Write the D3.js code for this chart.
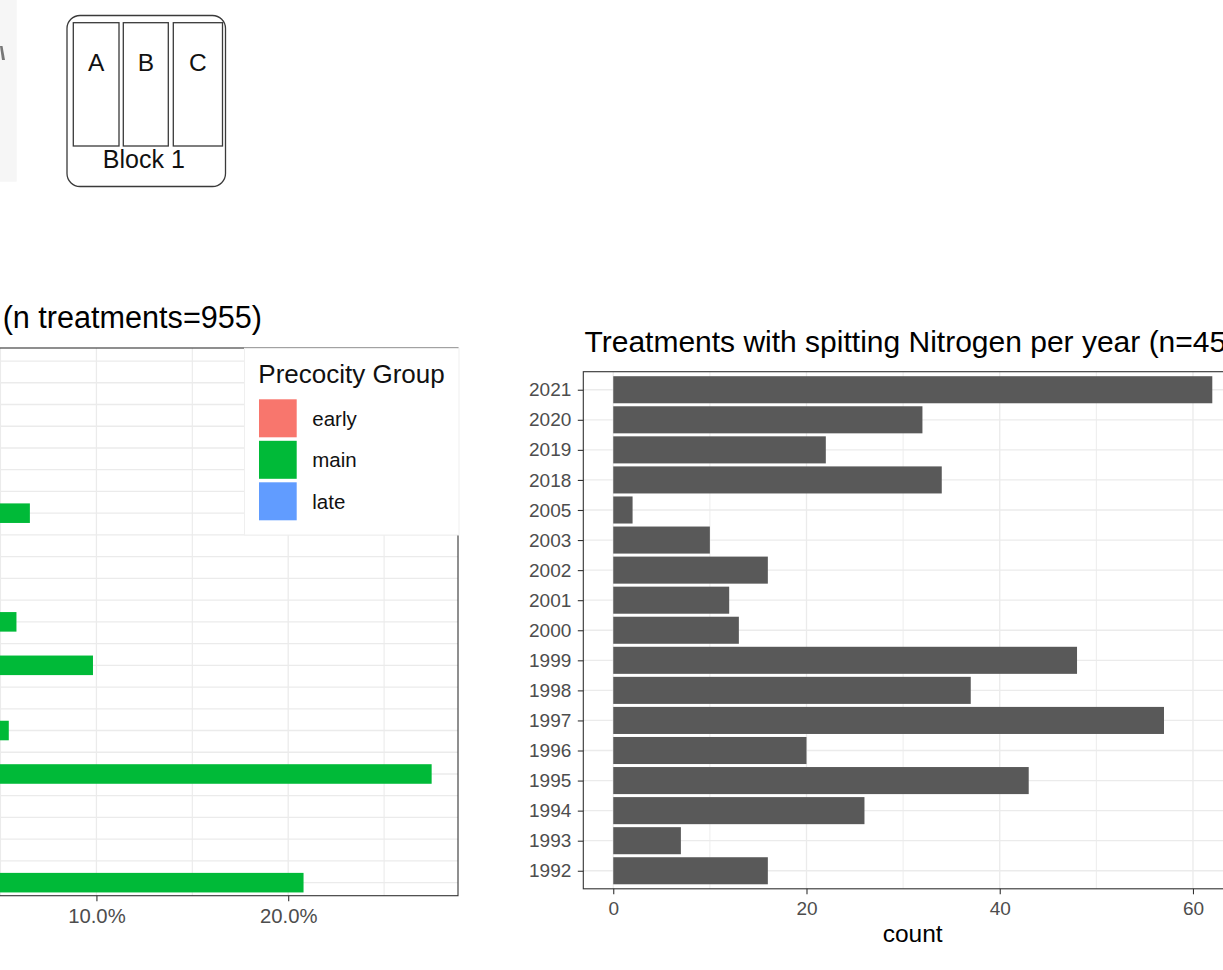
<!DOCTYPE html>
<html><head><meta charset="utf-8">
<script src="https://cdn.jsdelivr.net/npm/d3@7"></script>
<style>
body{margin:0;background:#fff;}
svg{display:block;font-family:"Liberation Sans",Arial,Helvetica,sans-serif;}
</style>
</head><body>
<svg id="c" width="1223" height="970"></svg>
<script>
// ---------- DATA ----------
// Right chart: treatments with splitting nitrogen per year
const years = ["2021","2020","2019","2018","2005","2003","2002","2001","2000","1999","1998","1997","1996","1995","1994","1993","1992"];
const counts = [62,32,22,34,2,10,16,12,13,48,37,57,20,43,26,7,16];
const countMajorTicks = [0,20,40,60];
const countMinorTicks = [10,30,50];
const rightTitle = "Treatments with spitting Nitrogen per year (n=457)";
const rightXLabel = "count";

// Left chart: share of treatments per category (category labels are cropped off in the reference)
const leftCategories = ["r01","r02","r03","r04","r05","r06","r07","r08","r09","r10","r11","r12","r13","r14","r15","r16","r17","r18","r19","r20","r21","r22","r23","r24","r25"];
const mainShare = [null,null,null,null,null,null,null,6.53,null,null,null,null,5.83,null,9.82,null,null,5.43,null,27.48,null,null,null,null,20.8];
const shareMajorTicks = [0,10,20];
const shareMinorTicks = [5,15,25];
const leftTitle = "(n treatments=955)";
const groups = ["early","main","late"];
const groupColors = ["#F8766D","#00BA38","#619CFF"];
const legendTitle = "Precocity Group";

// Diagram
const plotLetters = ["A","B","C"];
const blockLabel = "Block 1";

// ---------- DRAW ----------
const svg = d3.select("#c");
const GRID = "#EBEBEB", BORDER = "#333333", TICKTXT = "#4D4D4D";

// ---- top-left image fragments ----
svg.append("rect").attr("x",0).attr("y",0).attr("width",16.7).attr("height",181.7).attr("fill","#F6F6F6");
svg.append("path").attr("d","M0,46 L2.5,46 L5,60 L2,60 Z").attr("fill","#777");

const dg = svg.append("g");
dg.append("rect").attr("x",67).attr("y",15.5).attr("width",158.5).attr("height",171)
  .attr("rx",13).attr("fill","#fff").attr("stroke","#3a3a3a").attr("stroke-width",1.3);
const plotX = [73.3,123.3,173.3], plotW = [45.7,45,49.2];
plotLetters.forEach((L,i)=>{
  dg.append("rect").attr("x",plotX[i]).attr("y",22.7).attr("width",plotW[i]).attr("height",123.3)
    .attr("fill","#fff").attr("stroke","#3a3a3a").attr("stroke-width",1.3);
  dg.append("text").attr("x",plotX[i]+plotW[i]/2).attr("y",70.7).attr("text-anchor","middle")
    .attr("font-size",24.5).attr("fill","#111").text(L);
});
dg.append("text").attr("x",143.8).attr("y",168.3).attr("text-anchor","middle")
  .attr("font-size",25).attr("fill","#111").text(blockLabel);

// ---- LEFT CHART ----
const L = {left:-121.7, right:458, top:348, bottom:895.7};
const lx = d3.scaleLinear().domain([-0.05*27.48, 27.48*1.05]).range([L.left, L.right]);
const ly = d3.scalePoint().domain(leftCategories).range([L.top, L.bottom]).padding(0.6);
const lstep = ly.step();
const lg = svg.append("g");
lg.selectAll(".hg").data(leftCategories).join("line")
  .attr("x1",L.left).attr("x2",L.right).attr("y1",d=>ly(d)).attr("y2",d=>ly(d))
  .attr("stroke",GRID).attr("stroke-width",1.3);
lg.selectAll(".vmin").data(shareMinorTicks).join("line")
  .attr("x1",d=>lx(d)).attr("x2",d=>lx(d)).attr("y1",L.top).attr("y2",L.bottom)
  .attr("stroke",GRID).attr("stroke-width",1.1);
lg.selectAll(".vmaj").data(shareMajorTicks).join("line")
  .attr("x1",d=>lx(d)).attr("x2",d=>lx(d)).attr("y1",L.top).attr("y2",L.bottom)
  .attr("stroke",GRID).attr("stroke-width",1.3);
const lbars = leftCategories.map((c,i)=>({c, v:mainShare[i]})).filter(d=>d.v!=null);
lg.selectAll(".bar").data(lbars).join("rect")
  .attr("x",lx(0)).attr("y",d=>ly(d.c)-0.9*lstep/2)
  .attr("width",d=>lx(d.v)-lx(0)).attr("height",0.9*lstep)
  .attr("fill",groupColors[1]);
lg.append("rect").attr("x",L.left).attr("y",L.top).attr("width",L.right-L.left).attr("height",L.bottom-L.top)
  .attr("fill","none").attr("stroke",BORDER).attr("stroke-width",1.1);
// x axis (only ticks that fall inside the visible picture)
const lax = lg.append("g").attr("transform",`translate(0,${L.bottom})`)
  .call(d3.axisBottom(lx).tickValues(shareMajorTicks.filter(d=>lx(d)>30)).tickSize(5.5).tickPadding(7)
    .tickFormat(d=>d3.format(".1f")(d)+"%"));
lax.select(".domain").remove();
lax.selectAll("line").attr("stroke",BORDER).attr("stroke-width",1.1);
lax.selectAll("text").attr("font-size",20.3).attr("fill",TICKTXT).attr("font-family",null);
lg.append("text").attr("x",262).attr("y",328.3).attr("text-anchor","end")
  .attr("font-size",30.6).attr("fill","#000").text(leftTitle);
// legend
const leg = svg.append("g");
leg.append("rect").attr("x",244.5).attr("y",348.3).attr("width",214.5).attr("height",186.7)
  .attr("fill","#fff").attr("stroke","#EFEFEF").attr("stroke-width",1);
leg.append("text").attr("x",258.3).attr("y",382.7).attr("font-size",26).attr("fill","#111").text(legendTitle);
groups.forEach((g,i)=>{
  const y0 = 399.3 + i*41.5;
  leg.append("rect").attr("x",259).attr("y",y0).attr("width",37.7).attr("height",38)
    .attr("fill",groupColors[i]);
  leg.append("text").attr("x",312.3).attr("y",y0+19+7.3).attr("font-size",20.5).attr("fill","#111").text(g);
});

// ---- RIGHT CHART ----
const R = {left:583.3, top:371.7, bottom:888.8};
const rx = d3.scaleLinear().domain([-0.05*62, 62*1.05]).range([R.left, R.left + 68.2*9.662]);
const ry = d3.scalePoint().domain(years).range([R.top, R.bottom]).padding(0.6);
const rstep = ry.step();
R.right = rx.range()[1];
const rg = svg.append("g");
rg.selectAll(".vmin").data(countMinorTicks).join("line")
  .attr("x1",d=>rx(d)).attr("x2",d=>rx(d)).attr("y1",R.top).attr("y2",R.bottom)
  .attr("stroke",GRID).attr("stroke-width",0.9);
rg.selectAll(".vmaj").data(countMajorTicks).join("line")
  .attr("x1",d=>rx(d)).attr("x2",d=>rx(d)).attr("y1",R.top).attr("y2",R.bottom)
  .attr("stroke",GRID).attr("stroke-width",1.3);
rg.selectAll(".hg").data(years).join("line")
  .attr("x1",R.left).attr("x2",R.right).attr("y1",d=>ry(d)).attr("y2",d=>ry(d))
  .attr("stroke",GRID).attr("stroke-width",1.3);
rg.selectAll(".bar").data(years.map((y,i)=>({y, v:counts[i]}))).join("rect")
  .attr("x",rx(0)).attr("y",d=>ry(d.y)-0.9*rstep/2)
  .attr("width",d=>rx(d.v)-rx(0)).attr("height",0.9*rstep)
  .attr("fill","#595959");
rg.append("rect").attr("x",R.left).attr("y",R.top).attr("width",R.right-R.left).attr("height",R.bottom-R.top)
  .attr("fill","none").attr("stroke",BORDER).attr("stroke-width",1.1);
const ryAx = rg.append("g").attr("transform",`translate(${R.left},0)`)
  .call(d3.axisLeft(ry).tickSize(5.5).tickPadding(6.5));
ryAx.select(".domain").remove();
ryAx.selectAll("line").attr("stroke",BORDER).attr("stroke-width",1.1);
ryAx.selectAll("text").attr("font-size",19).attr("fill",TICKTXT).attr("font-family",null);
const rxAx = rg.append("g").attr("transform",`translate(0,${R.bottom})`)
  .call(d3.axisBottom(rx).tickValues(countMajorTicks).tickSize(5.5).tickPadding(7.5));
rxAx.select(".domain").remove();
rxAx.selectAll("line").attr("stroke",BORDER).attr("stroke-width",1.1);
rxAx.selectAll("text").attr("font-size",19).attr("fill",TICKTXT).attr("font-family",null);
rg.append("text").attr("x",912.6).attr("y",941.7).attr("text-anchor","middle")
  .attr("font-size",24.5).attr("fill","#000").text(rightXLabel);
rg.append("text").attr("x",584.5).attr("y",352.3)
  .attr("font-size",30).attr("fill","#000").text(rightTitle);
</script>
</body></html>
